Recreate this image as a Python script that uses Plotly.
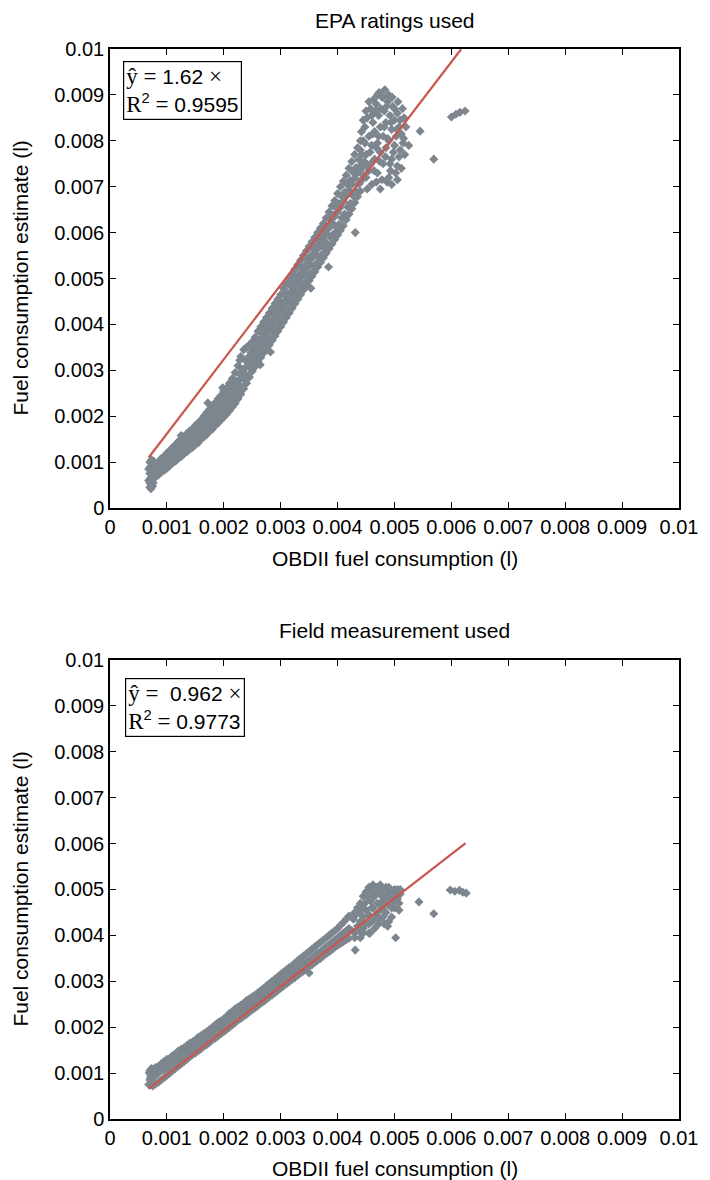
import plotly.graph_objects as go

# ---------------------------------------------------------------
# EPA-rating based estimate vs OBDII consumption (litres)
# ---------------------------------------------------------------
# start-up column near 0.0007 l
epa_x_start = [0.00070, 0.00072, 0.00070, 0.00073, 0.00071, 0.00074, 0.00070, 0.00072, 0.00075, 0.00071,
               0.00074, 0.00070, 0.00073, 0.00076, 0.00078, 0.00077, 0.00080, 0.00079, 0.00082, 0.00084,
               0.00075, 0.00068, 0.00068, 0.00072, 0.00077]
epa_y_start = [0.00045, 0.00050, 0.00055, 0.00060, 0.00065, 0.00070, 0.00075, 0.00080, 0.00085, 0.00090,
               0.00095, 0.00100, 0.00105, 0.00055, 0.00065, 0.00075, 0.00080, 0.00090, 0.00085, 0.00095,
               0.00048, 0.00060, 0.00085, 0.00042, 0.00102]

# rising band 0.00085 - 0.0044 l: lower edge, centre and upper edge of the cloud
epa_band_x = [0.00085, 0.00090, 0.00095, 0.00100, 0.00105, 0.00110, 0.00115, 0.00120, 0.00125, 0.00130,
              0.00135, 0.00140, 0.00145, 0.00150, 0.00155, 0.00160, 0.00165, 0.00170, 0.00175, 0.00180,
              0.00185, 0.00190, 0.00195, 0.00200, 0.00205, 0.00210, 0.00215, 0.00220, 0.00225, 0.00230,
              0.00235, 0.00240, 0.00245, 0.00250, 0.00255, 0.00260, 0.00265, 0.00270, 0.00275, 0.00280,
              0.00285, 0.00290, 0.00295, 0.00300, 0.00305, 0.00310, 0.00315, 0.00320, 0.00325, 0.00330,
              0.00335, 0.00340, 0.00345, 0.00350, 0.00355, 0.00360, 0.00365, 0.00370, 0.00375, 0.00380,
              0.00385, 0.00390, 0.00395, 0.00400, 0.00405, 0.00410, 0.00415, 0.00420, 0.00425, 0.00430,
              0.00435, 0.00440]
epa_band_lo = [0.00072, 0.00078, 0.00082, 0.00086, 0.00092, 0.00098, 0.00102, 0.00108, 0.00112, 0.00118,
               0.00122, 0.00128, 0.00132, 0.00138, 0.00142, 0.00150, 0.00155, 0.00160, 0.00168, 0.00172,
               0.00180, 0.00185, 0.00192, 0.00198, 0.00205, 0.00212, 0.00220, 0.00228, 0.00238, 0.00248,
               0.00260, 0.00272, 0.00285, 0.00298, 0.00308, 0.00318, 0.00328, 0.00338, 0.00348, 0.00355,
               0.00365, 0.00375, 0.00385, 0.00395, 0.00405, 0.00415, 0.00425, 0.00435, 0.00445, 0.00455,
               0.00465, 0.00475, 0.00485, 0.00495, 0.00505, 0.00515, 0.00525, 0.00535, 0.00545, 0.00555,
               0.00565, 0.00575, 0.00585, 0.00595, 0.00605, 0.00615, 0.00628, 0.00640, 0.00652, 0.00665,
               0.00678, 0.00690]
epa_band_mid = [0.00085, 0.00092, 0.00098, 0.00102, 0.00108, 0.00115, 0.00120, 0.00125, 0.00132, 0.00138,
                0.00142, 0.00148, 0.00155, 0.00160, 0.00165, 0.00172, 0.00178, 0.00185, 0.00192, 0.00198,
                0.00205, 0.00212, 0.00220, 0.00228, 0.00235, 0.00242, 0.00250, 0.00260, 0.00270, 0.00282,
                0.00295, 0.00308, 0.00320, 0.00332, 0.00342, 0.00352, 0.00362, 0.00372, 0.00382, 0.00392,
                0.00402, 0.00412, 0.00422, 0.00432, 0.00442, 0.00452, 0.00462, 0.00472, 0.00482, 0.00492,
                0.00502, 0.00512, 0.00522, 0.00532, 0.00545, 0.00555, 0.00565, 0.00575, 0.00585, 0.00598,
                0.00610, 0.00622, 0.00635, 0.00645, 0.00655, 0.00668, 0.00680, 0.00692, 0.00705, 0.00718,
                0.00730, 0.00745]
epa_band_hi = [0.00100, 0.00108, 0.00112, 0.00120, 0.00125, 0.00132, 0.00138, 0.00145, 0.00150, 0.00155,
               0.00162, 0.00168, 0.00172, 0.00180, 0.00185, 0.00192, 0.00200, 0.00208, 0.00215, 0.00222,
               0.00230, 0.00238, 0.00245, 0.00255, 0.00262, 0.00272, 0.00282, 0.00295, 0.00310, 0.00330,
               0.00345, 0.00350, 0.00355, 0.00362, 0.00372, 0.00385, 0.00395, 0.00405, 0.00415, 0.00425,
               0.00435, 0.00445, 0.00455, 0.00465, 0.00478, 0.00488, 0.00500, 0.00510, 0.00520, 0.00530,
               0.00540, 0.00550, 0.00560, 0.00570, 0.00580, 0.00590, 0.00600, 0.00610, 0.00620, 0.00632,
               0.00645, 0.00658, 0.00670, 0.00685, 0.00700, 0.00712, 0.00725, 0.00740, 0.00755, 0.00770,
               0.00785, 0.00800]

# readings lying between the edges and the centre of the band (staggered in x)
epa_fill_x = [0.000875, 0.000925, 0.000975, 0.001025, 0.001075, 0.001125, 0.001175, 0.001225, 0.001275, 0.001325,
              0.001375, 0.001425, 0.001475, 0.001525, 0.001575, 0.001625, 0.001675, 0.001725, 0.001775, 0.001825,
              0.001875, 0.001925, 0.001975, 0.002025, 0.002075, 0.002125, 0.002175, 0.002225, 0.002275, 0.002325,
              0.002375, 0.002425, 0.002475, 0.002525, 0.002575, 0.002625, 0.002675, 0.002725, 0.002775, 0.002825,
              0.002875, 0.002925, 0.002975, 0.003025, 0.003075, 0.003125, 0.003175, 0.003225, 0.003275, 0.003325,
              0.003375, 0.003425, 0.003475, 0.003525, 0.003575, 0.003625, 0.003675, 0.003725, 0.003775, 0.003825,
              0.003875, 0.003925, 0.003975, 0.004025, 0.004075, 0.004125, 0.004175, 0.004225, 0.004275, 0.004325,
              0.004375, 0.004425]
epa_fill_a = [0.00079, 0.00084, 0.00091, 0.00093, 0.00101, 0.00105, 0.00112, 0.00116, 0.00123, 0.00126,
              0.00133, 0.00137, 0.00145, 0.00148, 0.00155, 0.00160, 0.00168, 0.00171, 0.00181, 0.00184,
              0.00194, 0.00197, 0.00207, 0.00212, 0.00221, 0.00226, 0.00236, 0.00243, 0.00255, 0.00263,
              0.00279, 0.00288, 0.00304, 0.00314, 0.00326, 0.00334, 0.00346, 0.00354, 0.00366, 0.00372,
              0.00385, 0.00392, 0.00405, 0.00412, 0.00425, 0.00432, 0.00445, 0.00452, 0.00465, 0.00472,
              0.00485, 0.00492, 0.00505, 0.00512, 0.00526, 0.00533, 0.00546, 0.00553, 0.00566, 0.00575,
              0.00590, 0.00597, 0.00612, 0.00618, 0.00632, 0.00640, 0.00656, 0.00664, 0.00680, 0.00690,
              0.00706, 0.00716]
epa_fill_b = [0.00093, 0.00099, 0.00106, 0.00110, 0.00118, 0.00122, 0.00130, 0.00134, 0.00142, 0.00145,
              0.00153, 0.00157, 0.00165, 0.00169, 0.00176, 0.00181, 0.00190, 0.00195, 0.00205, 0.00209,
              0.00219, 0.00224, 0.00234, 0.00240, 0.00250, 0.00256, 0.00268, 0.00276, 0.00292, 0.00302,
              0.00322, 0.00328, 0.00339, 0.00346, 0.00358, 0.00367, 0.00380, 0.00387, 0.00400, 0.00407,
              0.00420, 0.00427, 0.00440, 0.00447, 0.00462, 0.00468, 0.00483, 0.00489, 0.00502, 0.00509,
              0.00522, 0.00529, 0.00542, 0.00549, 0.00564, 0.00570, 0.00584, 0.00590, 0.00604, 0.00613,
              0.00629, 0.00638, 0.00654, 0.00663, 0.00679, 0.00688, 0.00704, 0.00714, 0.00731, 0.00742,
              0.00759, 0.00770]

# scattered readings around the band
epa_x_scatter = [0.00172, 0.00264, 0.00353, 0.00384, 0.00431, 0.00316, 0.00362, 0.00125, 0.00150, 0.00198,
                 0.00282, 0.00340, 0.00395, 0.00412, 0.00422, 0.00292, 0.00228]
epa_y_scatter = [0.00229, 0.00312, 0.00479, 0.00525, 0.00600, 0.00497, 0.00569, 0.00158, 0.00148, 0.00262,
                 0.00340, 0.00510, 0.00598, 0.00640, 0.00705, 0.00448, 0.00322]

# dense upper cluster, 0.0044 - 0.0052 l
epa_x_top = [0.00440, 0.00442, 0.00445, 0.00447, 0.00448, 0.00450, 0.00450, 0.00452, 0.00455, 0.00455,
             0.00458, 0.00460, 0.00460, 0.00462, 0.00463, 0.00465, 0.00465, 0.00468, 0.00470, 0.00470,
             0.00472, 0.00473, 0.00475, 0.00475, 0.00478, 0.00480, 0.00480, 0.00482, 0.00483, 0.00485,
             0.00485, 0.00488, 0.00490, 0.00490, 0.00492, 0.00495, 0.00495, 0.00497, 0.00500, 0.00500,
             0.00503, 0.00505, 0.00505, 0.00508, 0.00510, 0.00512, 0.00515, 0.00517, 0.00487, 0.00493,
             0.00468, 0.00458,
             0.00442, 0.00445, 0.00448, 0.00450, 0.00452, 0.00455, 0.00457, 0.00460, 0.00462, 0.00464,
             0.00466, 0.00468, 0.00470, 0.00472, 0.00474, 0.00476, 0.00478, 0.00480, 0.00482, 0.00484,
             0.00486, 0.00488, 0.00490, 0.00492, 0.00494, 0.00496, 0.00498, 0.00500, 0.00502, 0.00504,
             0.00506, 0.00508, 0.00510, 0.00512, 0.00514, 0.00516, 0.00518, 0.00520, 0.00440, 0.00446,
             0.00452, 0.00475, 0.00495, 0.00505]
epa_y_top = [0.00780, 0.00740, 0.00800, 0.00755, 0.00830, 0.00720, 0.00770, 0.00850, 0.00810, 0.00735,
             0.00870, 0.00790, 0.00705, 0.00840, 0.00890, 0.00760, 0.00820, 0.00880, 0.00730, 0.00795,
             0.00855, 0.00905, 0.00775, 0.00830, 0.00895, 0.00750, 0.00810, 0.00865, 0.00911, 0.00785,
             0.00840, 0.00885, 0.00720, 0.00800, 0.00855, 0.00760, 0.00825, 0.00875, 0.00790, 0.00845,
             0.00810, 0.00745, 0.00860, 0.00830, 0.00780, 0.00815, 0.00795, 0.00850, 0.00710, 0.00735,
             0.00710, 0.00750,
             0.00820, 0.00845, 0.00795, 0.00865, 0.00745, 0.00885, 0.00775, 0.00855, 0.00815, 0.00735,
             0.00865, 0.00785, 0.00900, 0.00810, 0.00755, 0.00870, 0.00715, 0.00895, 0.00830, 0.00765,
             0.00875, 0.00805, 0.00900, 0.00750, 0.00840, 0.00895, 0.00775, 0.00870, 0.00730, 0.00825,
             0.00885, 0.00765, 0.00845, 0.00740, 0.00870, 0.00805, 0.00770, 0.00830, 0.00710, 0.00725,
             0.00695, 0.00695, 0.00705, 0.00715]

# isolated readings to the right of the cloud
epa_x_out = [0.00545, 0.00569, 0.00600, 0.00608, 0.00615, 0.00624, 0.00525]
epa_y_out = [0.00821, 0.00760, 0.00852, 0.00858, 0.00862, 0.00865, 0.00790]

# ---------------------------------------------------------------
# field-measurement based estimate vs OBDII consumption (litres)
# ---------------------------------------------------------------
field_x_start = [0.00068, 0.00070, 0.00072, 0.00070, 0.00074, 0.00073, 0.00071, 0.00069]
field_y_start = [0.00075, 0.00085, 0.00095, 0.00105, 0.00080, 0.00110, 0.00090, 0.00100]

field_band_x = [0.00075, 0.00080, 0.00085, 0.00090, 0.00095, 0.00100, 0.00105, 0.00110, 0.00115, 0.00120,
                0.00125, 0.00130, 0.00135, 0.00140, 0.00145, 0.00150, 0.00155, 0.00160, 0.00165, 0.00170,
                0.00175, 0.00180, 0.00185, 0.00190, 0.00195, 0.00200, 0.00205, 0.00210, 0.00215, 0.00220,
                0.00225, 0.00230, 0.00235, 0.00240, 0.00245, 0.00250, 0.00255, 0.00260, 0.00265, 0.00270,
                0.00275, 0.00280, 0.00285, 0.00290, 0.00295, 0.00300, 0.00305, 0.00310, 0.00315, 0.00320,
                0.00325, 0.00330, 0.00335, 0.00340, 0.00345, 0.00350, 0.00355, 0.00360, 0.00365, 0.00370,
                0.00375, 0.00380, 0.00385, 0.00390, 0.00395, 0.00400, 0.00405, 0.00410, 0.00415, 0.00420]
field_band_lo = [0.00072, 0.00076, 0.00080, 0.00085, 0.00090, 0.00095, 0.00100, 0.00105, 0.00110, 0.00115,
                 0.00120, 0.00125, 0.00130, 0.00135, 0.00140, 0.00144, 0.00148, 0.00153, 0.00158, 0.00162,
                 0.00167, 0.00172, 0.00176, 0.00181, 0.00186, 0.00190, 0.00195, 0.00200, 0.00205, 0.00210,
                 0.00215, 0.00219, 0.00224, 0.00228, 0.00233, 0.00238, 0.00242, 0.00247, 0.00252, 0.00256,
                 0.00261, 0.00266, 0.00270, 0.00275, 0.00280, 0.00285, 0.00290, 0.00294, 0.00299, 0.00304,
                 0.00308, 0.00313, 0.00318, 0.00322, 0.00327, 0.00332, 0.00336, 0.00341, 0.00346, 0.00350,
                 0.00355, 0.00360, 0.00364, 0.00369, 0.00374, 0.00378, 0.00382, 0.00386, 0.00390, 0.00394]
field_band_mid = [0.00088, 0.00095, 0.00100, 0.00105, 0.00108, 0.00112, 0.00118, 0.00122, 0.00128, 0.00132,
                  0.00138, 0.00142, 0.00145, 0.00150, 0.00155, 0.00160, 0.00163, 0.00168, 0.00172, 0.00177,
                  0.00182, 0.00186, 0.00190, 0.00195, 0.00200, 0.00205, 0.00210, 0.00214, 0.00218, 0.00224,
                  0.00228, 0.00232, 0.00237, 0.00242, 0.00247, 0.00252, 0.00256, 0.00261, 0.00266, 0.00270,
                  0.00275, 0.00280, 0.00285, 0.00290, 0.00294, 0.00299, 0.00304, 0.00308, 0.00313, 0.00318,
                  0.00322, 0.00327, 0.00332, 0.00337, 0.00342, 0.00346, 0.00351, 0.00356, 0.00361, 0.00365,
                  0.00370, 0.00375, 0.00380, 0.00385, 0.00390, 0.00395, 0.00400, 0.00405, 0.00410, 0.00415]
field_band_hi = [0.00108, 0.00112, 0.00115, 0.00120, 0.00125, 0.00130, 0.00132, 0.00138, 0.00142, 0.00148,
                 0.00152, 0.00155, 0.00160, 0.00165, 0.00168, 0.00172, 0.00178, 0.00182, 0.00186, 0.00190,
                 0.00195, 0.00200, 0.00205, 0.00210, 0.00214, 0.00218, 0.00224, 0.00230, 0.00234, 0.00240,
                 0.00244, 0.00248, 0.00252, 0.00258, 0.00262, 0.00266, 0.00270, 0.00275, 0.00280, 0.00285,
                 0.00290, 0.00295, 0.00300, 0.00305, 0.00310, 0.00315, 0.00320, 0.00325, 0.00330, 0.00334,
                 0.00340, 0.00345, 0.00350, 0.00355, 0.00360, 0.00365, 0.00370, 0.00375, 0.00380, 0.00385,
                 0.00390, 0.00395, 0.00400, 0.00405, 0.00410, 0.00415, 0.00422, 0.00428, 0.00435, 0.00442]

field_x_top = [0.00425, 0.00428, 0.00430, 0.00432, 0.00435, 0.00438, 0.00440, 0.00440, 0.00442, 0.00445,
               0.00445, 0.00448, 0.00450, 0.00450, 0.00452, 0.00455, 0.00455, 0.00458, 0.00460, 0.00460,
               0.00462, 0.00465, 0.00465, 0.00468, 0.00468, 0.00470, 0.00472, 0.00474, 0.00475, 0.00478,
               0.00478, 0.00480, 0.00482, 0.00482, 0.00485, 0.00485, 0.00488, 0.00490, 0.00492, 0.00495,
               0.00495, 0.00498, 0.00500, 0.00502, 0.00505, 0.00508, 0.00510, 0.00488, 0.00472, 0.00431,
               0.00457,
               0.00425, 0.00430, 0.00435, 0.00440, 0.00445, 0.00450, 0.00455, 0.00462, 0.00470, 0.00476,
               0.00480, 0.00485, 0.00490, 0.00495, 0.00500, 0.00505, 0.00510, 0.00445, 0.00455, 0.00460,
               0.00465, 0.00470, 0.00475, 0.00480, 0.00490, 0.00498, 0.00508, 0.00438, 0.00430]
field_y_top = [0.00410, 0.00435, 0.00405, 0.00445, 0.00420, 0.00450, 0.00395, 0.00430, 0.00460, 0.00415,
               0.00440, 0.00470, 0.00425, 0.00455, 0.00485, 0.00405, 0.00445, 0.00475, 0.00430, 0.00495,
               0.00460, 0.00415, 0.00485, 0.00505, 0.00445, 0.00470, 0.00495, 0.00435, 0.00510, 0.00460,
               0.00485, 0.00500, 0.00425, 0.00475, 0.00450, 0.00505, 0.00490, 0.00465, 0.00500, 0.00440,
               0.00480, 0.00495, 0.00460, 0.00485, 0.00500, 0.00470, 0.00490, 0.00420, 0.00425, 0.00368,
               0.00405,
               0.00440, 0.00450, 0.00460, 0.00470, 0.00485, 0.00495, 0.00505, 0.00510, 0.00505, 0.00490,
               0.00455, 0.00480, 0.00505, 0.00460, 0.00500, 0.00480, 0.00500, 0.00405, 0.00425, 0.00460,
               0.00435, 0.00450, 0.00470, 0.00440, 0.00430, 0.00475, 0.00455, 0.00410, 0.00395]

field_x_out = [0.00543, 0.00569, 0.00502, 0.00598, 0.00606, 0.00614, 0.00620, 0.00626, 0.00222, 0.00350]
field_y_out = [0.00473, 0.00447, 0.00395, 0.00499, 0.00496, 0.00498, 0.00494, 0.00492, 0.00240, 0.00318]

epa_x = epa_x_start + epa_band_x * 3 + epa_fill_x * 2 + epa_x_scatter + epa_x_top + epa_x_out
epa_y = (epa_y_start + epa_band_lo + epa_band_mid + epa_band_hi + epa_fill_a + epa_fill_b
         + epa_y_scatter + epa_y_top + epa_y_out)
field_x = field_x_start + field_band_x * 3 + field_x_top + field_x_out
field_y = field_y_start + field_band_lo + field_band_mid + field_band_hi + field_y_top + field_y_out
assert len(epa_x) == len(epa_y) and len(field_x) == len(field_y)

# fitted lines y = slope * x across the OBDII range
epa_slope = 1.62
field_slope = 0.962
epa_fit_x = [0.00068, 0.00617]
field_fit_x = [0.00068, 0.00625]
epa_fit_y = [epa_slope * v for v in epa_fit_x]
field_fit_y = [field_slope * v for v in field_fit_x]

tick_vals = [0, 0.001, 0.002, 0.003, 0.004, 0.005, 0.006, 0.007, 0.008, 0.009, 0.01]
tick_text = ["0", "0.001", "0.002", "0.003", "0.004", "0.005", "0.006", "0.007", "0.008", "0.009", "0.01"]

POINT = "#7d868e"
FIT = "#c9574f"
SANS = "Liberation Sans, Arial, sans-serif"
SERIF = "Liberation Serif, DejaVu Serif, serif"

fig = go.Figure()
marker = dict(symbol="diamond", size=7, color=POINT, line=dict(width=0))
fig.add_trace(go.Scatter(x=epa_x, y=epa_y, mode="markers", xaxis="x", yaxis="y", marker=marker))
fig.add_trace(go.Scatter(x=epa_fit_x, y=epa_fit_y, mode="lines", xaxis="x", yaxis="y",
                         line=dict(color=FIT, width=2.2)))
fig.add_trace(go.Scatter(x=field_x, y=field_y, mode="markers", xaxis="x2", yaxis="y2", marker=marker))
fig.add_trace(go.Scatter(x=field_fit_x, y=field_fit_y, mode="lines", xaxis="x2", yaxis="y2",
                         line=dict(color=FIT, width=2.2)))

axis_style = dict(
    range=[0, 0.01], tickmode="array", tickvals=tick_vals, ticktext=tick_text,
    showgrid=False, zeroline=False, showline=True, linecolor="black", linewidth=1.5,
    mirror="ticks", ticks="inside", ticklen=6, tickwidth=1.2, tickcolor="black",
    tickfont=dict(family=SANS, size=20, color="black"),
)

fig.update_layout(
    width=710, height=1180,
    margin=dict(l=110, r=20, t=49, b=61),
    paper_bgcolor="white", plot_bgcolor="white",
    showlegend=False,
    xaxis=dict(axis_style, domain=[0, 1], anchor="y"),
    yaxis=dict(axis_style, domain=[0.571, 1], anchor="x"),
    xaxis2=dict(axis_style, domain=[0, 1], anchor="y2"),
    yaxis2=dict(axis_style, domain=[0, 0.429], anchor="x2"),
)


def label(text, x, y, angle=0, size=21):
    fig.add_annotation(text=text, xref="paper", yref="paper", x=x, y=y,
                       showarrow=False, textangle=angle,
                       font=dict(family=SANS, size=size, color="black"),
                       xanchor="center", yanchor="middle")


# panel titles
label("EPA ratings used", 0.5, 1.027)
label("Field measurement used", 0.5, 0.457)
# axis titles
label("OBDII fuel consumption (l)", 0.5, 0.524)
label("OBDII fuel consumption (l)", 0.5, -0.0458)
label("Fuel consumption estimate (l)", -0.158, 0.7855, angle=-90)
label("Fuel consumption estimate (l)", -0.158, 0.2145, angle=-90)


def fit_box(text, xref, yref, x, y):
    fig.add_annotation(text=text, xref=xref, yref=yref, x=x, y=y,
                       xanchor="left", yanchor="top", align="left", showarrow=False,
                       font=dict(family=SANS, size=21, color="black"),
                       bordercolor="black", borderwidth=1.2, borderpad=2, bgcolor="white")


s = f"<span style='font-family:{SERIF};font-size:23px'>"
fit_box(f"{s}ŷ =</span> 1.62 {s}×</span><br>{s}R</span><sup>2</sup>{s} =</span> 0.9595",
        "x", "y", 0.00023, 0.00974)
fit_box(f"{s}ŷ =</span>  0.962 {s}×</span><br>{s}R</span><sup>2</sup>{s} =</span> 0.9773",
        "x2", "y2", 0.00026, 0.00961)

fig.write_html("out.html")
